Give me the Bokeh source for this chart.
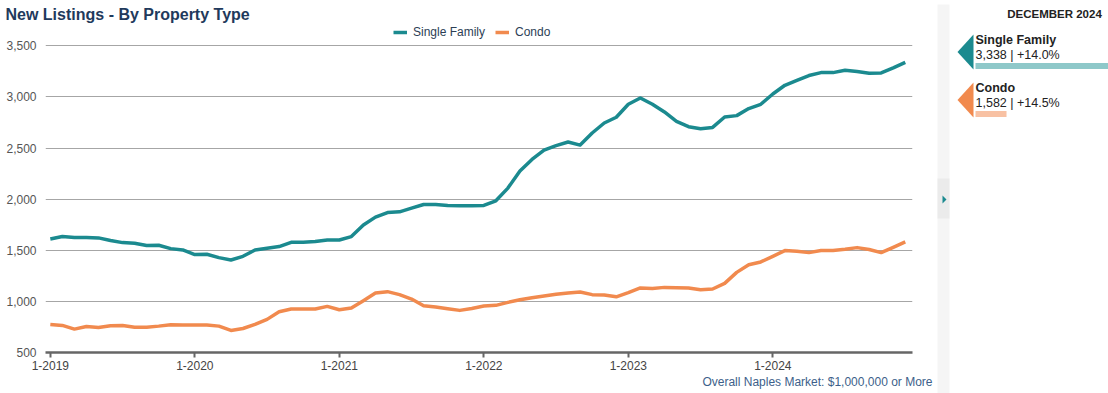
from bokeh.plotting import figure
from bokeh.models import (Range1d, FixedTicker, NumeralTickFormatter, Legend, LegendItem,
                          Title, ColumnDataSource)
from bokeh.layouts import row, column
from bokeh.embed import file_html
from bokeh.resources import INLINE
from bokeh.core.properties import value

# ---------------- data ----------------
title_text = "New Listings - By Property Type"
series_names = ["Single Family", "Condo"]
tick_labels = ["1-2019", "1-2020", "1-2021", "1-2022", "1-2023", "1-2024"]
y_ticks = [500, 1000, 1500, 2000, 2500, 3000, 3500]

single_family = [
    1611, 1634, 1624, 1624, 1621, 1595, 1575, 1569, 1546, 1549, 1516, 1503,
    1458, 1461, 1428, 1405, 1441, 1503, 1520, 1536, 1578, 1578, 1585, 1601,
    1601, 1634, 1748, 1824, 1869, 1876, 1912, 1948, 1948, 1938, 1935, 1935,
    1938, 1984, 2108, 2275, 2389, 2480, 2523, 2559, 2529, 2647, 2745, 2801,
    2928, 2990, 2928, 2853, 2761, 2709, 2689, 2702, 2804, 2817, 2886, 2928,
    3029, 3114, 3163, 3209, 3238, 3238, 3261, 3248, 3232, 3235, 3284, 3338,
]
condo = [
    775, 765, 729, 755, 745, 761, 765, 748, 748, 758, 771, 768,
    768, 768, 758, 716, 735, 775, 824, 899, 925, 925, 925, 951,
    918, 935, 1007, 1082, 1095, 1066, 1023, 958, 945, 928, 912, 931,
    954, 961, 990, 1016, 1036, 1052, 1069, 1082, 1092, 1066, 1062, 1045,
    1085, 1131, 1127, 1137, 1134, 1131, 1114, 1121, 1176, 1284, 1359, 1386,
    1441, 1497, 1490, 1477, 1497, 1497, 1510, 1526, 1507, 1477, 1529, 1582,
]
footnote = "Overall Naples Market: $1,000,000 or More"

side_period = "DECEMBER 2024"
side_names = ["Single Family", "Condo"]
side_values = [3338, 1582]
side_changes = ["+14.0%", "+14.5%"]

# ---------------- styles ----------------
FONT = "Liberation Sans"
TEAL = "#1b8a8f"
ORANGE = "#f18a4e"
TEAL_LIGHT = "#8ec8c9"
ORANGE_LIGHT = "#f8c1a3"
NAVY = "#1f3a5c"

W_MAIN, W_SIDE, H = 935, 173, 393

months = list(range(len(single_family)))

p = figure(width=W_MAIN, height=H, output_backend="svg", toolbar_location=None,
           x_range=Range1d(-0.4, 71.6), y_range=Range1d(500, 3728),
           min_border_left=45, min_border_right=23, min_border_top=22, min_border_bottom=41,
           outline_line_color=None, background_fill_color="white")

p.title.text = title_text
p.title.align = "left"
p.title.offset = -40
p.title.standoff = 0
p.title.text_font = FONT
p.title.text_font_size = "16px"
p.title.text_font_style = "bold"
p.title.text_color = NAVY

src = ColumnDataSource(dict(m=months, sf=single_family, condo=condo))
r_sf = p.line("m", "sf", source=src, line_color=TEAL, line_width=3.5, line_join="round")
r_co = p.line("m", "condo", source=src, line_color=ORANGE, line_width=3.5, line_join="round")

# axes
p.xaxis.ticker = FixedTicker(ticks=[12 * i for i in range(len(tick_labels))])
p.xaxis.major_label_overrides = {12 * i: t for i, t in enumerate(tick_labels)}
p.xaxis.minor_tick_line_color = None
p.xaxis.axis_line_color = "#666666"
p.xaxis.axis_line_width = 2.5
p.xaxis.major_tick_line_color = "#666666"
p.xaxis.major_tick_line_width = 2
p.xaxis.major_tick_out = 5
p.xaxis.major_tick_in = 0
p.xaxis.major_label_standoff = 3
p.xaxis.major_label_text_font = FONT
p.xaxis.major_label_text_font_size = "12px"
p.xaxis.major_label_text_color = "#444444"

p.yaxis.ticker = FixedTicker(ticks=y_ticks)
p.yaxis.formatter = NumeralTickFormatter(format="0,0")
p.yaxis.axis_line_color = None
p.yaxis.major_tick_line_color = None
p.yaxis.major_tick_out = 0
p.yaxis.major_tick_in = 0
p.yaxis.minor_tick_line_color = None
p.yaxis.major_label_standoff = 9
p.yaxis.major_label_text_font = FONT
p.yaxis.major_label_text_font_size = "12px"
p.yaxis.major_label_text_color = "#555555"

p.xgrid.grid_line_color = None
p.ygrid.ticker = FixedTicker(ticks=y_ticks[1:])
p.ygrid.grid_line_color = "#a6a6a6"
p.ygrid.grid_line_width = 1

legend = Legend(items=[LegendItem(label=series_names[0], renderers=[r_sf]),
                       LegendItem(label=series_names[1], renderers=[r_co])],
                orientation="horizontal", location=(348, 313),
                margin=0, padding=0, spacing=10, label_standoff=6,
                glyph_width=14, glyph_height=14, label_height=14,
                label_text_font=FONT, label_text_font_size="12px",
                label_text_color="#2c3e55",
                background_fill_alpha=0, border_line_color=None)
p.add_layout(legend)

p.add_layout(Title(text=footnote, align="right", offset=-20, standoff=0,
                   text_font=FONT, text_font_size="12px", text_font_style="normal",
                   text_color="#3d5f8a"), "below")

# ---------------- side panel ----------------
s = figure(width=W_SIDE, height=H, output_backend="svg", toolbar_location=None,
           x_range=Range1d(W_MAIN, W_MAIN + W_SIDE), y_range=Range1d(H, 0),
           min_border=0, outline_line_color=None, background_fill_color="white")
s.axis.visible = False
s.grid.grid_line_color = None

# collapse bar
s.quad(left=937, right=949, bottom=H, top=4, fill_color="#f5f5f5", line_color=None)
s.quad(left=937, right=949, bottom=218, top=178, fill_color="#ebebeb", line_color=None)
s.patch(x=[942, 946, 942], y=[195, 199, 203], fill_color=TEAL, line_color=None)

s.text(x=[1054], y=[13.3], text=[side_period], text_font=value(FONT), text_font_size="11.5px",
       text_font_style="bold", text_color="#222222", text_align="center",
       text_baseline="alphabetic")

row_y0, row_step = 51.5, 48
colors = [TEAL, ORANGE]
light = [TEAL_LIGHT, ORANGE_LIGHT]
vmax = max(side_values)
base = 1048
bar_left, bar_right = 975, W_MAIN + W_SIDE
for i, (nm, v, ch) in enumerate(zip(side_names, side_values, side_changes)):
    yc = row_y0 + i * row_step
    s.patch(x=[957, 973, 973], y=[yc, yc - 17.5, yc + 17.5], fill_color=colors[i], line_color=None)
    s.text(x=[bar_left], y=[yc - 12.5], text=[nm], text_font=value(FONT), text_font_size="12.5px",
           text_font_style="bold", text_color="#222222", text_baseline="alphabetic")
    s.text(x=[bar_left], y=[yc + 2.7], text=[f"{v:,} | {ch}"], text_font=value(FONT),
           text_font_size="12.5px", text_color="#222222", text_baseline="alphabetic")
    blen = (v - base) / (vmax - base) * (bar_right - bar_left)
    s.quad(left=bar_left, right=bar_left + blen, top=yc + 11, bottom=yc + 17,
           fill_color=light[i], line_color=None)

layout = row(p, column(s))
open("out.html", "w").write(file_html(layout, INLINE))
